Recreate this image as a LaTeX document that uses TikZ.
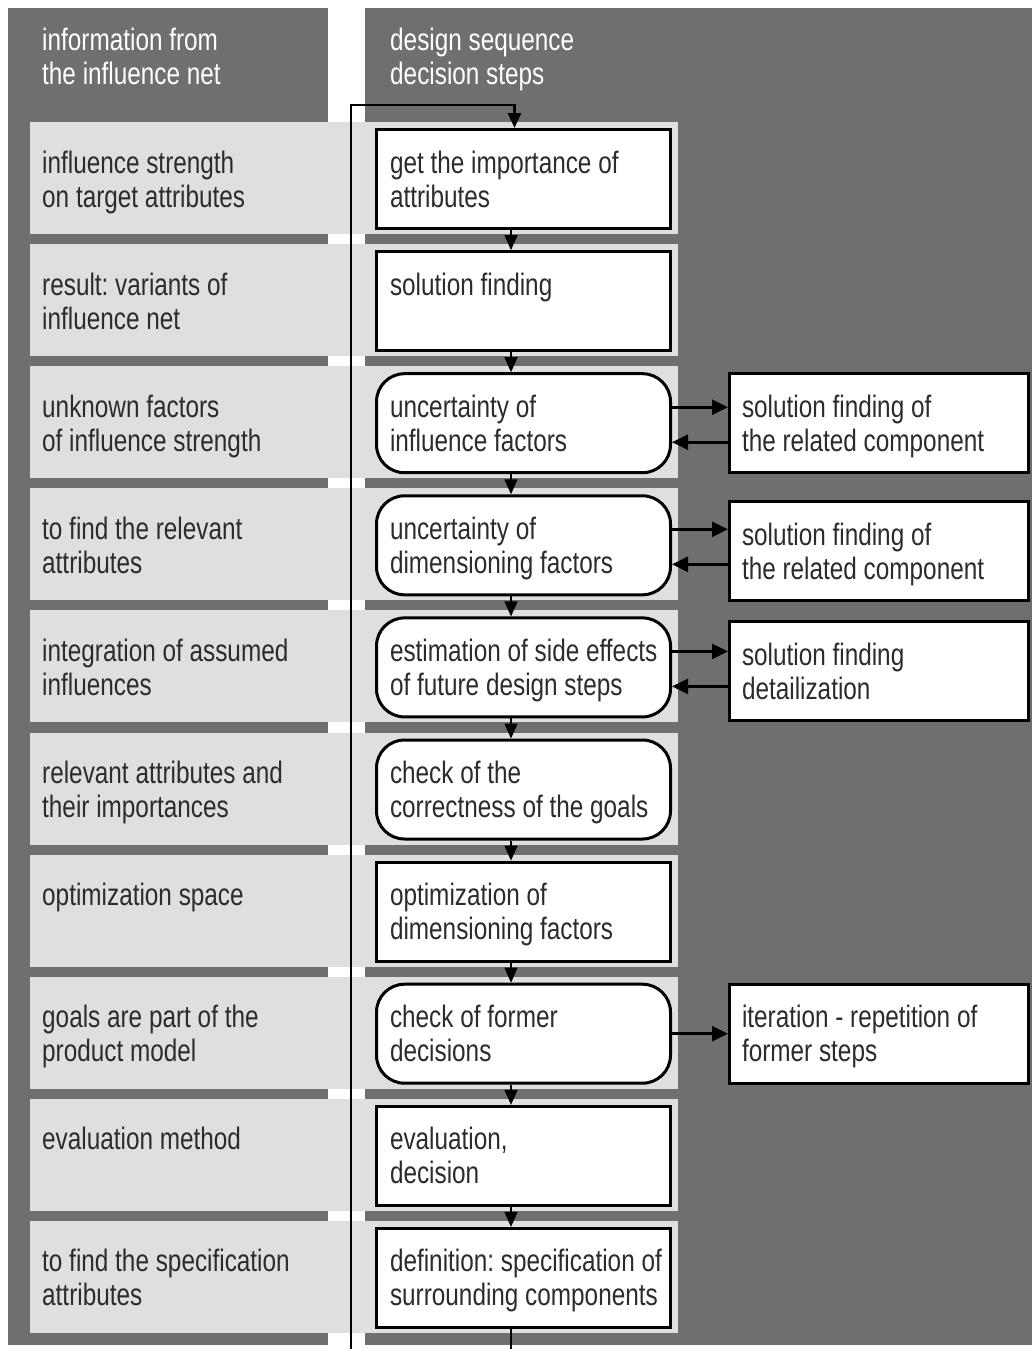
\documentclass[tikz,border=0pt]{standalone}
\usepackage{fontspec}
\setmainfont{Liberation Sans}[FakeStretch=0.785]
\usetikzlibrary{arrows.meta}
\definecolor{panel}{HTML}{6F6F6F}
\definecolor{rowgray}{HTML}{DFDFDF}
\definecolor{ink}{HTML}{2C2C2C}
\frenchspacing
\begin{document}
\begin{tikzpicture}[x=1pt,y=-1pt,
  every node/.style={font=\fontsize{31}{34}\selectfont\frenchspacing, text=ink},
  cell/.style={anchor=base west, align=flush left, text width=285pt, inner sep=0pt},
  head/.style={cell, text=white},
  stepbox/.style={draw=black, line width=3pt, fill=white, anchor=north west,
    minimum width=294pt, minimum height=99pt, text width=267pt, align=flush left,
    inner xsep=13.5pt, inner ysep=0pt, text height=26pt, text depth=38pt},
  stepround/.style={stepbox, rounded corners=28pt},
  sidebox/.style={stepbox, minimum width=299pt, text width=274pt, inner xsep=12.5pt},
  flow/.style={draw=black, line width=1.4pt, -{Triangle[length=15pt,width=13pt]}},
  side/.style={draw=black, line width=2.6pt, -{Triangle[length=16pt,width=15pt]}},
  loopline/.style={draw=black, line width=2.8pt, -{Triangle[length=15pt,width=13pt]}}
]
\useasboundingbox (0,0) rectangle (1032,1349);
% background panels
\fill[panel] (8,8) rectangle (1032,1345);
\fill[white] (328,8) rectangle (365,1345);
\foreach \r in {122.0,244.1,366.2,488.3,610.4,732.5,854.6,976.7,1098.8,1220.9}
  \fill[rowgray] (30,\r) rectangle (678,\r+112);

% headers
\node[head] (h1) at (42,50) {information from\\the influence net};
\node[head] (h2) at (390,50) {design sequence\\decision steps};

% left column texts
\node[cell] (l1) at (42,173.0) {influence strength\\on target attributes};
\node[cell] (l2) at (42,295.1) {result: variants of\\influence net};
\node[cell] (l3) at (42,417.2) {unknown factors\\of influence strength};
\node[cell] (l4) at (42,539.3) {to find the relevant\\attributes};
\node[cell] (l5) at (42,661.4) {integration of assumed\\influences};
\node[cell] (l6) at (42,783.5) {relevant attributes and\\their importances};
\node[cell] (l7) at (42,905.6) {optimization space};
\node[cell] (l8) at (42,1027.7) {goals are part of the\\product model};
\node[cell] (l9) at (42,1149.8) {evaluation method};
\node[cell] (l10) at (42,1271.9) {to find the specification\\attributes};

% decision steps
\node[stepbox]   (s1) at (375,128.0) {get the importance of\\attributes};
\node[stepbox]   (s2) at (375,250.1) {solution finding};
\node[stepround] (s3) at (375,372.2) {uncertainty of\\influence factors};
\node[stepround] (s4) at (375,494.3) {uncertainty of\\dimensioning factors};
\node[stepround] (s5) at (375,616.4) {\mbox{estimation of side effects}\\of future design steps};
\node[stepround] (s6) at (375,738.5) {check of the\\\mbox{correctness of the goals}};
\node[stepbox]   (s7) at (375,860.6) {optimization of\\dimensioning factors};
\node[stepround] (s8) at (375,982.7) {check of former\\decisions};
\node[stepbox]   (s9) at (375,1104.8) {evaluation,\\decision};
\node[stepbox]   (s10) at (375,1226.9) {\mbox{definition: specification of}\\\mbox{surrounding components}};

% side boxes
\node[sidebox] (r3) at (728,372.2) {solution finding of\\the related component};
\node[sidebox] (r4) at (728,500.3) {solution finding of\\the related component};
\node[sidebox] (r5) at (728,620.4) {solution finding\\detailization};
\node[sidebox] (r8) at (728,982.7) {iteration - repetition of\\former steps};

% loop line
\coordinate (lbot) at (351,1349);
\coordinate (ltop) at (351,105);
\coordinate (bend) at (511,1349);
\draw[loopline] (lbot) -- (ltop) -| ([xshift=-9pt]s1.north);

% flow arrows
\foreach \a/\b in {s1/s2,s2/s3,s3/s4,s4/s5,s5/s6,s6/s7,s7/s8,s8/s9,s9/s10}
  \draw[flow] ([xshift=-12.5pt]\a.south) -- ([xshift=-12.5pt]\b.north);
\draw[draw=black, line width=2.6pt] ([xshift=-12.5pt]s10.south) -- (bend);

% side arrows
\foreach \s/\t in {s3/r3,s4/r4,s5/r5}{
  \draw[side] ([yshift=16pt]\s.east) -- ([yshift=16pt]\s.east -| \t.west);
  \draw[side] ([yshift=-19pt]\s.east -| \t.west) -- ([yshift=-19pt]\s.east);
}
\draw[side] (s8.east) -- (s8.east -| r8.west);
\end{tikzpicture}
\end{document}
